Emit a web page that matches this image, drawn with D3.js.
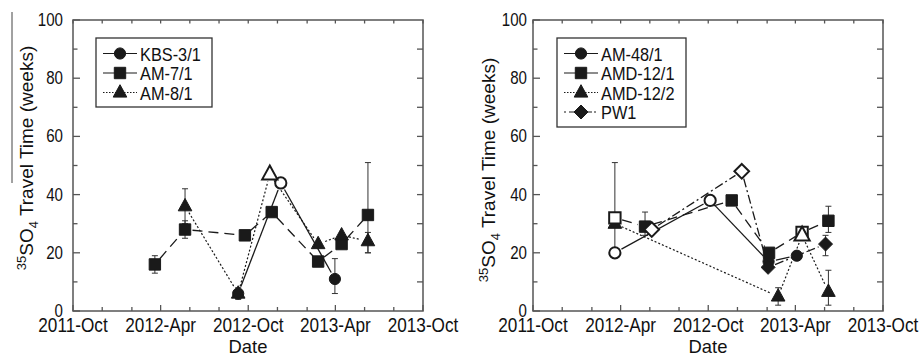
<!DOCTYPE html>
<html><head><meta charset="utf-8">
<script src="https://cdn.jsdelivr.net/npm/d3@7"></script>
<style>html,body{margin:0;padding:0;background:#fff;}svg{display:block;font-family:"Liberation Sans",Arial,sans-serif;}</style>
</head><body>
<svg id="c" width="921" height="357"></svg>
<script>
// ---------- data ----------
const xDomain = ["2011-10-01", "2013-10-01"];
const xTickLabels = ["2011-10-01", "2012-04-01", "2012-10-01", "2013-04-01", "2013-10-01"];
const yTicks = [0, 20, 40, 60, 80, 100];

// Left panel
const kbs31Dates = ["2012-09-10", "2012-12-08", "2013-03-31"];
const kbs31Values = [6, 44, 11];
const kbs31Open = [0, 1, 0];
const kbs31Low = [4, null, 6];
const kbs31High = [8, null, 18];

const am71Dates = ["2012-03-20", "2012-05-22", "2012-09-24", "2012-11-19", "2013-02-24", "2013-04-14", "2013-06-08"];
const am71Values = [16, 28, 26, 34, 17, 23, 33];
const am71Open = [0, 0, 0, 0, 0, 0, 0];
const am71Low = [13, 25, null, null, null, null, 20];
const am71High = [19, 31, null, null, null, null, 51];

const am81Dates = ["2012-05-22", "2012-09-10", "2012-11-15", "2013-02-24", "2013-04-14", "2013-06-08"];
const am81Values = [36, 6, 47, 23, 26, 24];
const am81Open = [0, 0, 1, 0, 0, 0];
const am81Low = [30, null, null, null, null, 20];
const am81High = [42, null, null, null, null, 27];

// Right panel
const am481Dates = ["2012-03-20", "2012-10-05", "2013-02-04", "2013-04-04"];
const am481Values = [20, 38, 17, 19];
const am481Open = [1, 1, 0, 0];
const am481Low = [null, null, null, null];
const am481High = [null, null, null, null];

const amd121Dates = ["2012-03-20", "2012-05-22", "2012-11-19", "2013-02-05", "2013-04-15", "2013-06-09"];
const amd121Values = [32, 29, 38, 20, 27, 31];
const amd121Open = [1, 0, 0, 0, 1, 0];
const amd121Low = [20, 26, null, null, null, 27];
const amd121High = [51, 34, null, null, null, 36];

const amd122Dates = ["2012-03-20", "2013-02-24", "2013-04-15", "2013-06-09"];
const amd122Values = [30, 5, 26, 6.6];
const amd122Open = [0, 0, 1, 0];
const amd122Low = [null, 2, null, 2];
const amd122High = [null, 8, null, 14];

const pw1Dates = ["2012-06-05", "2012-12-10", "2013-02-03", "2013-06-03"];
const pw1Values = [28, 48, 15, 23];
const pw1Open = [1, 1, 0, 0];
const pw1Low = [null, null, null, 19];
const pw1High = [null, null, null, 26];

// ---------- build ----------
const parse = d3.utcParse("%Y-%m-%d");
function mk(name, shape, dash, dates, vals, open, low, high) {
  return { name, shape, dash, pts: dates.map((d, i) => ({ date: parse(d), v: vals[i], open: !!open[i], lo: low[i], hi: high[i] })) };
}
const leftSeries = [
  mk("KBS-3/1", "circle", "solid", kbs31Dates, kbs31Values, kbs31Open, kbs31Low, kbs31High),
  mk("AM-7/1", "square", "dash", am71Dates, am71Values, am71Open, am71Low, am71High),
  mk("AM-8/1", "triangle", "dot", am81Dates, am81Values, am81Open, am81Low, am81High)
];
const rightSeries = [
  mk("AM-48/1", "circle", "solid", am481Dates, am481Values, am481Open, am481Low, am481High),
  mk("AMD-12/1", "square", "dash", amd121Dates, amd121Values, amd121Open, amd121Low, amd121High),
  mk("AMD-12/2", "triangle", "dot", amd122Dates, amd122Values, amd122Open, amd122Low, amd122High),
  mk("PW1", "diamond", "dashdot", pw1Dates, pw1Values, pw1Open, pw1Low, pw1High)
];

const dashes = { solid: null, dash: "10,6", dot: "2,2", dashdot: "9,3,2,3" };
const INK = "#1a1a1a", AX = "#555";

function shapePath(shape, open) {
  const k = open ? 1.12 : 1;
  if (shape === "circle") { const r = 5.6; return `M${-r},0A${r},${r} 0 1,0 ${r},0A${r},${r} 0 1,0 ${-r},0Z`; }
  if (shape === "square") { const h = 5.7; return `M${-h},${-h}H${h}V${h}H${-h}Z`; }
  if (shape === "triangle") { return `M0,${-7.8 * k}L${6.8 * k},${4.6 * k}L${-6.8 * k},${4.6 * k}Z`; }
  if (shape === "diamond") { const h = 7 * (open ? 1.05 : 1); return `M0,${-h}L${h},0L0,${h}L${-h},0Z`; }
}
function marker(g, shape, open, px, py) {
  g.append("path").attr("d", shapePath(shape, open)).attr("transform", `translate(${px},${py})`)
    .attr("fill", open ? "#fff" : INK).attr("stroke", INK).attr("stroke-width", open ? 2 : 1);
}
function txt(g, x, y, s, size, anchor, sx) {
  return g.append("text").attr("transform", `translate(${x},${y}) scale(${sx},1)`)
    .attr("font-size", size).attr("text-anchor", anchor).attr("fill", "#111").text(s);
}

const svg = d3.select("#c");

function drawPanel(cfg, series) {
  const g = svg.append("g");
  const x = d3.scaleUtc().domain(xDomain.map(parse)).range([cfg.left, cfg.right]);
  const y = d3.scaleLinear().domain([0, 100]).range([cfg.bottom, cfg.top]);

  // ticks
  const months = d3.utcMonth.range(x.domain()[0], d3.utcMonth.offset(x.domain()[1], 1)).filter(d => d.getUTCMonth() % 2 === 1);
  months.forEach(d => {
    const major = d.getUTCMonth() === 3 || d.getUTCMonth() === 9;
    const px = x(d);
    g.append("line").attr("x1", px).attr("x2", px).attr("y1", cfg.bottom).attr("y2", cfg.bottom - (major ? 6 : 4)).attr("stroke", AX).attr("stroke-width", 1.3);
    g.append("line").attr("x1", px).attr("x2", px).attr("y1", cfg.top).attr("y2", cfg.top + 3.5).attr("stroke", AX).attr("stroke-width", 1.3);
  });
  d3.range(0, 101, 10).forEach(v => {
    const major = v % 20 === 0;
    const py = y(v);
    g.append("line").attr("x1", cfg.left).attr("x2", cfg.left + (major ? 7 : 4.5)).attr("y1", py).attr("y2", py).attr("stroke", AX).attr("stroke-width", 1.3);
    if (v > 0 && v < 100)
      g.append("line").attr("x1", cfg.right).attr("x2", cfg.right - 6).attr("y1", py).attr("y2", py).attr("stroke", AX).attr("stroke-width", 1.3);
  });
  // frame
  g.append("rect").attr("x", cfg.left).attr("y", cfg.top).attr("width", cfg.right - cfg.left).attr("height", cfg.bottom - cfg.top)
    .attr("fill", "none").attr("stroke", AX).attr("stroke-width", 1.5);

  // tick labels
  const fmt = d3.utcFormat("%Y-%b");
  xTickLabels.forEach(s => { const d = parse(s); txt(g, x(d), cfg.bottom + 21, fmt(d), 20, "middle", 0.86); });
  yTicks.forEach(v => txt(g, cfg.left - cfg.gap, y(v) + 6, String(v), 18, "end", 0.84));

  // axis titles
  txt(g, (cfg.left + cfg.right) / 2, 353, "Date", 19, "middle", 0.97);
  const yl = g.append("text").attr("transform", `translate(${cfg.ylabX},${cfg.ylabCY}) rotate(-90)`)
    .attr("text-anchor", "middle").attr("font-size", 19).attr("fill", "#111");
  yl.append("tspan").attr("font-size", 13).attr("dy", -7).text("35");
  yl.append("tspan").attr("dy", 7).text("SO");
  yl.append("tspan").attr("font-size", 13).attr("dy", 5).text("4");
  yl.append("tspan").attr("dy", -5).text(" Travel Time (weeks)");

  // error bars
  series.forEach(s => s.pts.forEach(p => {
    if (p.lo == null && p.hi == null) return;
    const px = x(p.date), y1 = y(p.lo != null ? p.lo : p.v), y2 = y(p.hi != null ? p.hi : p.v);
    g.append("line").attr("x1", px).attr("x2", px).attr("y1", y1).attr("y2", y2).attr("stroke", "#333").attr("stroke-width", 1);
    [p.lo, p.hi].forEach(e => { if (e != null) g.append("line").attr("x1", px - 3).attr("x2", px + 3).attr("y1", y(e)).attr("y2", y(e)).attr("stroke", "#333").attr("stroke-width", 1); });
  }));
  // lines with gaps at symbols
  const GAP = 7.5;
  series.forEach(s => {
    for (let i = 1; i < s.pts.length; i++) {
      const ax = x(s.pts[i - 1].date), ay = y(s.pts[i - 1].v), bx = x(s.pts[i].date), by = y(s.pts[i].v);
      const L = Math.hypot(bx - ax, by - ay); if (L <= 2 * GAP) continue;
      const ux = (bx - ax) / L, uy = (by - ay) / L;
      g.append("line").attr("x1", ax + ux * GAP).attr("y1", ay + uy * GAP).attr("x2", bx - ux * GAP).attr("y2", by - uy * GAP)
        .attr("stroke", INK).attr("stroke-width", s.dash === "dot" ? 1.2 : 1.3).attr("stroke-dasharray", dashes[s.dash]);
    }
  });
  // markers (filled first, then open)
  [false, true].forEach(o => series.forEach(s => s.pts.filter(p => p.open === o).forEach(p => marker(g, s.shape, p.open, x(p.date), y(p.v)))));

  // legend
  const L = cfg.legend;
  g.append("rect").attr("x", L.x).attr("y", L.y).attr("width", L.w).attr("height", L.h).attr("fill", "#fff").attr("stroke", "#333").attr("stroke-width", 1.3);
  series.forEach((s, i) => {
    const cy = L.y + 15.5 + i * 19.5;
    g.append("line").attr("x1", L.x + 7).attr("x2", L.x + 41).attr("y1", cy).attr("y2", cy).attr("stroke", INK).attr("stroke-width", 1.2).attr("stroke-dasharray", s.dash === "dash" ? "12,0" : s.dash === "dot" ? "1.5,1.5" : s.dash === "dashdot" ? "2,3,8,2" : null);
    marker(g, s.shape, false, L.x + 24, cy);
    txt(g, L.x + 44, cy + 7, s.name, 19, "start", 0.86);
  });
}

drawPanel({ left: 73, right: 423, top: 20, bottom: 311, gap: 10, ylabX: 33, ylabCY: 158, legend: { x: 96, y: 38, w: 116, h: 69 } }, leftSeries);
drawPanel({ left: 533, right: 883, top: 20, bottom: 311, gap: 6, ylabX: 495, ylabCY: 170, legend: { x: 557, y: 38, w: 129, h: 89 } }, rightSeries);

// stray vertical rule at left edge of the figure
svg.append("line").attr("x1", 12).attr("x2", 12).attr("y1", 12).attr("y2", 183).attr("stroke", "#444").attr("stroke-width", 1);
</script>
</body></html>
